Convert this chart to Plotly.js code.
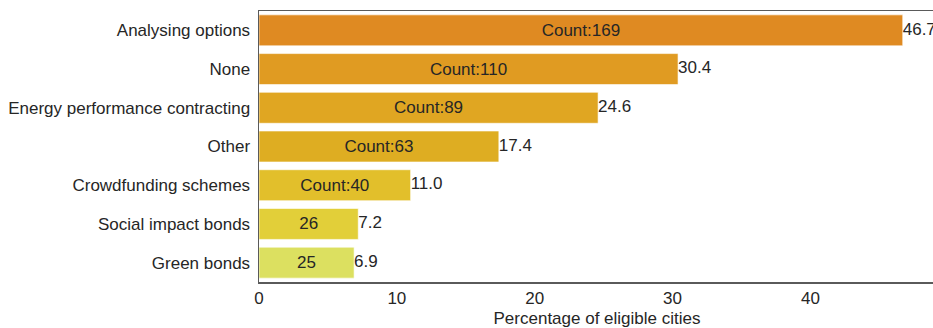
<!DOCTYPE html>
<html>
<head>
<meta charset="utf-8">
<script src="https://cdn.plot.ly/plotly-3.0.1.min.js"></script>
<style>
html,body{margin:0;padding:0;overflow:hidden;background:#fff;}
#chart{width:935px;height:328px;}
</style>
</head>
<body>
<div id="chart"></div>
<script>
const categories = ["Analysing options","None","Energy performance contracting","Other","Crowdfunding schemes","Social impact bonds","Green bonds"];
const percentages = [46.7, 30.4, 24.6, 17.4, 11.0, 7.2, 6.9];
const counts = [169, 110, 89, 63, 40, 26, 25];
const insideLabels = ["Count:169","Count:110","Count:89","Count:63","Count:40","26","25"];
const pctLabels = ["46.7","30.4","24.6","17.4","11.0","7.2","6.9"];
const barColors = ["#DF8A22","#E09B22","#E0A622","#DEAD22","#E2BF2B","#E2CF39","#DCE060"];

const font = "Liberation Sans, Arial, sans-serif";
const textColor = "#262626";

const bars = {
  type: "bar",
  orientation: "h",
  x: percentages,
  y: categories,
  width: 0.8,
  marker: {color: barColors, line: {color: "rgba(255,255,255,0.6)", width: 1}},
  text: insideLabels,
  textposition: "inside",
  insidetextanchor: "middle",
  textangle: 0,
  textfont: {family: font, size: 17, color: textColor},
  constraintext: "none",
  hoverinfo: "none",
  showlegend: false
};

const outside = {
  type: "scatter",
  mode: "text",
  x: percentages,
  y: categories,
  text: pctLabels,
  textposition: "middle right",
  textfont: {family: font, size: 17, color: textColor},
  hoverinfo: "none",
  showlegend: false,
  cliponaxis: false
};

const layout = {
  width: 935,
  height: 328,
  margin: {l: 259, r: 0, t: 11, b: 46, pad: 0},
  paper_bgcolor: "#ffffff",
  plot_bgcolor: "#ffffff",
  font: {family: font, size: 17, color: textColor},
  xaxis: {
    range: [0, 49.04],
    tickvals: [0, 10, 20, 30, 40],
    ticks: "",
    showgrid: false,
    zeroline: false,
    showline: true,
    mirror: true,
    linecolor: "#5a5a5a",
    linewidth: 1.5,
    tickfont: {family: font, size: 17, color: textColor},
    title: {text: "Percentage of eligible cities", font: {family: font, size: 17, color: textColor}, standoff: 8}
  },
  yaxis: {
    type: "category",
    range: [6.5, -0.5],
    ticks: "",
    showgrid: false,
    zeroline: false,
    showline: true,
    linecolor: "#5a5a5a",
    linewidth: 1.5,
    ticklabelstandoff: 4,
    tickfont: {family: font, size: 17, color: textColor}
  }
};

Plotly.newPlot("chart", [bars, outside], layout, {displayModeBar: false, staticPlot: true});
</script>
</body>
</html>
